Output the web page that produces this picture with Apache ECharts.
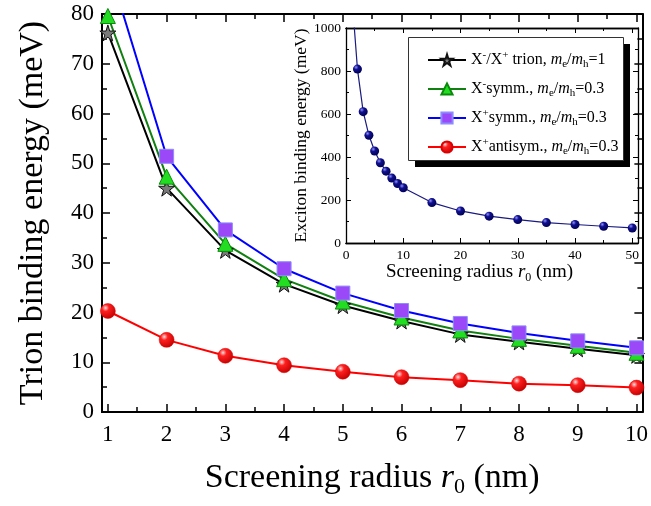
<!DOCTYPE html>
<html lang="en">
<head>
<meta charset="UTF-8">
<title>Trion binding energy vs screening radius</title>
<script src="https://cdn.jsdelivr.net/npm/echarts@6.0.0/dist/echarts.min.js"></script>
<style>
    html, body { margin: 0; padding: 0; background: #fff; }
    #chart { width: 651px; height: 506px; }
</style>
</head>
<body>
<div id="chart"></div>
<script>
// main panel: trion binding energy (meV) vs screening radius r0 (nm)
var r0 = [1, 2, 3, 4, 5, 6, 7, 8, 9, 10];
var trionEqual = [76.2, 45.0, 32.5, 25.7, 21.4, 18.3, 15.6, 14.1, 12.7, 11.4];
var symmMinus = [79.6, 47.3, 33.8, 26.7, 22.2, 19.0, 16.4, 14.7, 13.3, 11.9];
var symmPlus = [90.0, 51.4, 36.6, 28.8, 23.9, 20.4, 17.8, 15.9, 14.3, 12.9];
var antisymPlus = [20.3, 14.5, 11.3, 9.4, 8.1, 7.0, 6.4, 5.7, 5.4, 4.9];
var mainXTicks = [1, 2, 3, 4, 5, 6, 7, 8, 9, 10];
var mainXMinor = [1.5, 2.5, 3.5, 4.5, 5.5, 6.5, 7.5, 8.5, 9.5];

// inset: exciton binding energy (meV) vs r0 (nm)
var r0Inset = [1, 2, 3, 4, 5, 6, 7, 8, 9, 10, 15, 20, 25, 30, 35, 40, 45, 50];
var excitonE = [1160, 809, 611, 501, 428, 373, 334, 302, 277, 257, 188, 149, 125, 109, 95, 86, 78, 70];
var insetXTicks = [0, 10, 20, 30, 40, 50];
var insetXMinor = [5, 15, 25, 35, 45];

var names = ['X-/X+ trion', 'X- symm.', 'X+ symm.', 'X+ antisym.'];
var legendRich = {
    'X-/X+ trion': '{n|X}{sup|-}{n|/X}{sup|+}{n| trion, }{i|m}{sub|e}{n|/}{i|m}{sub|h}{n|=1}',
    'X- symm.': '{n|X}{sup|-}{n|symm., }{i|m}{sub|e}{n|/}{i|m}{sub|h}{n|=0.3}',
    'X+ symm.': '{n|X}{sup|+}{n|symm., }{i|m}{sub|e}{n|/}{i|m}{sub|h}{n|=0.3}',
    'X+ antisym.': '{n|X}{sup|+}{n|antisym., }{i|m}{sub|e}{n|/}{i|m}{sub|h}{n|=0.3}'
};

var FONT = '"Liberation Serif", "Times New Roman", serif';
var starPath = 'path://M50,0 L61,35 L98,35 L68,57 L79,91 L50,70 L21,91 L32,57 L2,35 L39,35 Z';

function pairs(xs, ys) {
    return xs.map(function (x, i) { return [x, ys[i]]; });
}

function tickAxis(grid, pos, min, max, values, len, labels, fontSize) {
    return {
        type: 'value', gridIndex: grid, position: pos, min: min, max: max,
        axisLine: { show: true, onZero: false, lineStyle: { color: '#000', width: grid === 0 ? 2 : 1.3 } },
        axisTick: { show: true, inside: true, length: len, customValues: values,
            lineStyle: { color: '#000', width: grid === 0 ? 1.5 : 1 } },
        axisLabel: { show: labels, customValues: values, color: '#000', fontFamily: FONT,
            fontSize: fontSize, margin: grid === 0 ? 11 : 5 },
        splitLine: { show: false }
    };
}

function valueAxis(grid, pos, max, step, labels, fontSize) {
    return {
        type: 'value', gridIndex: grid, position: pos, min: 0, max: max, interval: step,
        axisLine: { show: true, onZero: false, lineStyle: { color: '#000', width: grid === 0 ? 2 : 1.3 } },
        axisTick: { show: true, inside: true, length: grid === 0 ? 8 : 5,
            lineStyle: { color: '#000', width: grid === 0 ? 1.5 : 1 } },
        minorTick: { show: true, splitNumber: 2, length: grid === 0 ? 5 : 3,
            lineStyle: { color: '#000', width: grid === 0 ? 1.5 : 1 } },
        axisLabel: { show: labels, color: '#000', fontFamily: FONT, fontSize: fontSize,
            margin: grid === 0 ? 8 : 5, formatter: function (v) { return String(v); } },
        splitLine: { show: false }
    };
}

var xMain = tickAxis(0, 'bottom', 0.9, 10.1, mainXTicks, 8, true, 23);
xMain.name = '{n|Screening radius }{i|r}{sub|0}{n| (nm)}';
xMain.nameLocation = 'middle';
xMain.nameGap = 46;
xMain.nameTextStyle = {
    color: '#000', fontFamily: FONT, fontSize: 34,
    rich: {
        n: { fontFamily: FONT, fontSize: 34, color: '#000' },
        i: { fontFamily: FONT, fontSize: 34, color: '#000', fontStyle: 'italic' },
        sub: { fontFamily: FONT, fontSize: 22, color: '#000', padding: [18, 0, 0, 0] }
    }
};

var xInset = tickAxis(1, 'bottom', 0, 51, insetXTicks, 5, true, 13.5);
xInset.name = '{n|Screening radius }{i|r}{sub|0}{n| (nm)}';
xInset.nameLocation = 'middle';
xInset.nameGap = 18;
xInset.nameTextStyle = {
    color: '#000', fontFamily: FONT, fontSize: 19, padding: [0, 25, 0, 0],
    rich: {
        n: { fontFamily: FONT, fontSize: 19, color: '#000' },
        i: { fontFamily: FONT, fontSize: 19, color: '#000', fontStyle: 'italic' },
        sub: { fontFamily: FONT, fontSize: 12, color: '#000', padding: [10, 0, 0, 0] }
    }
};

var yMain = valueAxis(0, 'left', 80, 10, true, 23);
yMain.name = 'Trion binding energy (meV)';
yMain.nameLocation = 'middle';
yMain.nameGap = 52;
yMain.nameTextStyle = { color: '#000', fontFamily: FONT, fontSize: 34 };

var yInset = valueAxis(1, 'left', 1000, 200, true, 13.5);
yInset.name = 'Exciton binding energy (meV)';
yInset.nameLocation = 'middle';
yInset.nameGap = 36;
yInset.nameTextStyle = { color: '#000', fontFamily: FONT, fontSize: 17.5 };

var redBall = new echarts.graphic.RadialGradient(0.35, 0.3, 0.75, [
    { offset: 0, color: '#ffe0e0' }, { offset: 0.3, color: '#ff2020' }, { offset: 1, color: '#c00000' }
]);
var blueBall = new echarts.graphic.RadialGradient(0.35, 0.3, 0.75, [
    { offset: 0, color: '#9090ff' }, { offset: 0.35, color: '#101090' }, { offset: 1, color: '#000050' }
]);

var insetData = pairs(r0Inset, excitonE);
insetData[0] = { value: insetData[0], symbol: 'none' };

var chart = echarts.init(document.getElementById('chart'), null, { renderer: 'canvas' });
chart.setOption({
    animation: false,
    backgroundColor: '#fff',
    grid: [
        { left: 102, right: 6, top: 14, bottom: 94 },
        { left: 346, right: 13, top: 28, bottom: 263, show: true, backgroundColor: '#fff', borderWidth: 0 }
    ],
    xAxis: [
        xMain,
        tickAxis(0, 'bottom', 0.9, 10.1, mainXMinor, 5, false, 22),
        tickAxis(0, 'top', 0.9, 10.1, mainXTicks, 8, false, 22),
        tickAxis(0, 'top', 0.9, 10.1, mainXMinor, 5, false, 22),
        xInset,
        tickAxis(1, 'bottom', 0, 51, insetXMinor, 3, false, 13),
        tickAxis(1, 'top', 0, 51, insetXTicks, 5, false, 13),
        tickAxis(1, 'top', 0, 51, insetXMinor, 3, false, 13)
    ],
    yAxis: [
        yMain,
        valueAxis(0, 'right', 80, 10, false, 22),
        yInset,
        valueAxis(1, 'right', 1000, 200, false, 13)
    ],
    legend: {
        orient: 'vertical', left: 422, top: 45, itemGap: 9,
        itemWidth: 38, itemHeight: 14,
        data: names,
        formatter: function (name) { return legendRich[name]; },
        textStyle: {
            fontFamily: FONT, fontSize: 16, color: '#000',
            rich: {
                n: { fontFamily: FONT, fontSize: 16, color: '#000' },
                i: { fontFamily: FONT, fontSize: 16, color: '#000', fontStyle: 'italic' },
                sup: { fontFamily: FONT, fontSize: 11, color: '#000', padding: [0, 0, 9, 0] },
                sub: { fontFamily: FONT, fontSize: 11, color: '#000', padding: [9, 0, 0, 0] }
            }
        },
        z: 20
    },
    graphic: [
        { type: 'rect', left: 415, top: 44, shape: { width: 215, height: 123 },
          style: { fill: '#000' }, z: 15 },
        { type: 'rect', left: 408, top: 37, shape: { width: 215, height: 123 },
          style: { fill: '#fff', stroke: '#333', lineWidth: 1 }, z: 16 }
    ],
    series: [
        {
            name: names[0], type: 'line', xAxisIndex: 0, yAxisIndex: 0,
            data: pairs(r0, trionEqual), symbol: starPath, symbolSize: 16,
            lineStyle: { color: '#000', width: 2 },
            itemStyle: { color: '#7a7a7a', borderColor: '#111', borderWidth: 1 }
        },
        {
            name: names[1], type: 'line', xAxisIndex: 0, yAxisIndex: 0,
            data: pairs(r0, symmMinus), symbol: 'triangle', symbolSize: 15,
            lineStyle: { color: '#108010', width: 2 },
            itemStyle: { color: '#22dd22', borderColor: '#0a8a0a', borderWidth: 1 }
        },
        {
            name: names[2], type: 'line', xAxisIndex: 0, yAxisIndex: 0,
            data: pairs(r0, symmPlus), symbol: 'rect', symbolSize: 14,
            lineStyle: { color: '#0000ff', width: 2 },
            itemStyle: { color: '#9a48f8', borderColor: '#8c8cff', borderWidth: 1 }
        },
        {
            name: names[3], type: 'line', xAxisIndex: 0, yAxisIndex: 0,
            data: pairs(r0, antisymPlus), symbol: 'circle', symbolSize: 15,
            lineStyle: { color: '#ff0000', width: 2 },
            itemStyle: { color: redBall, borderColor: '#dd0000', borderWidth: 0.5 }
        },
        {
            name: 'exciton', type: 'line', xAxisIndex: 4, yAxisIndex: 2,
            data: insetData, symbol: 'circle', symbolSize: 9, clip: true,
            lineStyle: { color: '#1a1a80', width: 1.2 },
            itemStyle: { color: blueBall, borderWidth: 0 }
        }
    ]
});
</script>
</body>
</html>
